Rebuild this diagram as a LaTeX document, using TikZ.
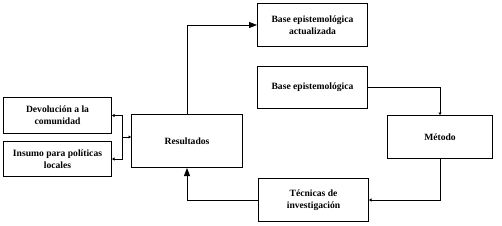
\documentclass[tikz,border=0pt]{standalone}
\usepackage{fontspec}
\setmainfont{Liberation Serif}
\usetikzlibrary{arrows.meta}
\begin{document}
\begin{tikzpicture}[x=1pt,y=-1pt,
  box/.style={draw=black,line width=1pt,inner sep=0pt,align=center,font=\fontsize{9.6}{12}\selectfont\bfseries,anchor=north west},
  conn/.style={line width=0.9pt},
  bigarrow/.style={conn,-{Triangle[length=8pt,width=6pt]}},
  smallarrow/.style={conn,-{Triangle[length=2.5pt,width=3pt]}}]
\useasboundingbox (0,0) rectangle (502,225);
\node[box,minimum width=110pt,minimum height=43pt] (bea) at (257,3) {Base epistemológica\\actualizada};
\node[box,minimum width=110pt,minimum height=42pt] (be) at (257,66) {Base epistemológica};
\node[box,minimum width=105pt,minimum height=43pt] (met) at (387,115) {Método};
\node[box,minimum width=110pt,minimum height=43pt] (tec) at (258,178) {Técnicas de\\investigación};
\node[box,minimum width=111pt,minimum height=53pt] (res) at (131,114) {Resultados};
\node[box,minimum width=108pt,minimum height=36pt] (dev) at (3,97) {Devolución a la\\comunidad};
\node[box,minimum width=108pt,minimum height=35pt] (ins) at (3,141) {Insumo para políticas\\locales};
\coordinate (j) at (122,137);
\draw[bigarrow] (res.north) |- (bea.west);
\draw[smallarrow] (be.east) -| (met.north);
\draw[smallarrow] (met.south) |- (tec.east);
\draw[bigarrow] (tec.west) -| (res.south);
\draw[smallarrow] (j) -- (res.west |- j);
\draw[smallarrow] (j) |- (dev.east);
\draw[smallarrow] (j) |- (ins.east);
\end{tikzpicture}
\end{document}
